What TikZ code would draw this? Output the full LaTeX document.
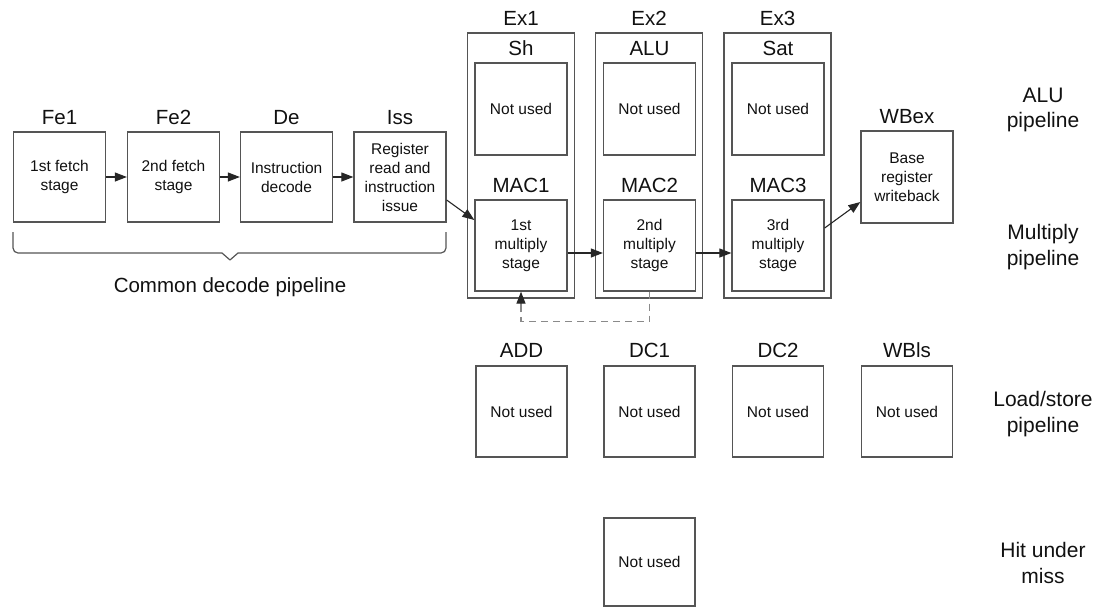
\documentclass[tikz,border=0pt]{standalone}
\usepackage{fontspec}
\setmainfont{Liberation Sans}
\usetikzlibrary{arrows.meta}
\definecolor{boxgray}{HTML}{555555}
\definecolor{txt}{HTML}{111111}
\definecolor{dashgray}{HTML}{8A8A8A}
\begin{document}
\begin{tikzpicture}[x=1pt,y=-1pt,
  box/.style={draw=boxgray, line width=1.3pt, minimum width=92pt, minimum height=90pt,
    inner sep=0pt, font=\fontsize{15.5}{19}\selectfont, align=center, text=txt},
  lsbox/.style={box, minimum width=91pt, minimum height=91pt},
  exbox/.style={draw=boxgray, line width=1.3pt, minimum width=107pt, minimum height=265pt, inner sep=0pt},
  head/.style={font=\fontsize{20.5}{25}\selectfont, text=txt, anchor=base, inner sep=0pt},
  side/.style={font=\fontsize{21}{25.5}\selectfont, text=txt, align=center, inner sep=0pt},
  flow/.style={draw=black!85, line width=1.1pt, -{Triangle[length=12pt,width=9pt]}},
  dashline/.style={draw=dashgray, line width=1.3pt, dash pattern=on 7pt off 5pt},
  bracel/.style={draw=boxgray, line width=1.2pt, line join=round}
]
\useasboundingbox (0,0) rectangle (1097,608);
\fill[white] (0,0) rectangle (1097,608);

% common decode pipeline
\node[box] (Fe1) at (59.5,177) {1st fetch\\stage};
\node[box] (Fe2) at (173.5,177) {2nd fetch\\stage};
\node[box] (De)  at (286.5,177) {Instruction\\decode};
\node[box] (Iss) at (400,177) {Register\\read and\\instruction\\issue};
\node[head] (lFe1) at (59.5,124) {Fe1};
\node[head] (lFe2) at (173.5,124) {Fe2};
\node[head] (lDe)  at (286.5,124) {De};
\node[head] (lIss) at (400,124) {Iss};

\draw[bracel] (13,232) -- (13,248) to[out=-90,in=180] (18,253) -- (222,253) -- (230,260) -- (238,253) -- (441,253) to[out=0,in=-90] (446,248) -- (446,232);
\node[head] (common) at (230,292) {Common decode pipeline};

% execute columns
\node[exbox] (Ex1) at (521,165.5) {};
\node[exbox] (Ex2) at (649,165.5) {};
\node[exbox] (Ex3) at (777.5,165.5) {};
\node[head] (lEx1) at (521,25) {Ex1};
\node[head] (lEx2) at (649,25) {Ex2};
\node[head] (lEx3) at (777.5,25) {Ex3};
\node[head] (lSh)  at (521,55) {Sh};
\node[head] (lALU) at (649.5,55) {ALU};
\node[head] (lSat) at (778,55) {Sat};
\node[box, minimum height=92pt] (Sh)  at (521,109) {Not used};
\node[box, minimum height=92pt] (ALU) at (649.5,109) {Not used};
\node[box, minimum height=92pt] (Sat) at (778,109) {Not used};
\node[head] (lMAC1) at (521,192) {MAC1};
\node[head] (lMAC2) at (649.5,192) {MAC2};
\node[head] (lMAC3) at (778,192) {MAC3};
\node[box, minimum height=91pt] (MAC1) at (521,245.5) {1st\\multiply\\stage};
\node[box, minimum height=91pt] (MAC2) at (649.5,245.5) {2nd\\multiply\\stage};
\node[box, minimum height=91pt] (MAC3) at (778,245.5) {3rd\\multiply\\stage};

% writeback
\node[box, minimum height=92pt] (WBex) at (907,177) {Base\\register\\writeback};
\node[head] (lWBex) at (907,123) {WBex};

% load/store
\node[head] (lADD)  at (521.5,357) {ADD};
\node[head] (lDC1)  at (649.5,357) {DC1};
\node[head] (lDC2)  at (778,357) {DC2};
\node[head] (lWBls) at (907,357) {WBls};
\node[lsbox] (ADD)  at (521.5,411.5) {Not used};
\node[lsbox] (DC1)  at (649.5,411.5) {Not used};
\node[lsbox] (DC2)  at (778,411.5) {Not used};
\node[lsbox] (WBls) at (907,411.5) {Not used};
\node[lsbox, minimum height=88pt] (HUM) at (649.5,562) {Not used};

% side labels
\node[side] (sALU) at (1043,110) {ALU\\pipeline};
\node[side] (sMul) at (1043,247) {Multiply\\pipeline};
\node[side] (sLS)  at (1043,414) {Load/store\\pipeline};
\node[side] (sHUM) at (1043,563) {Hit under\\miss};

% connectors
\draw[flow] (Fe1) -- (Fe2);
\draw[flow] (Fe2) -- (De);
\draw[flow] (De) -- (Iss);
\draw[flow] ([yshift=-23pt]Iss.east) -- ([yshift=25.5pt]MAC1.west);
\draw[flow] ([yshift=-7.5pt]MAC1.east) -- ([yshift=-7.5pt]MAC2.west);
\draw[flow] ([yshift=-7.5pt]MAC2.east) -- ([yshift=-7.5pt]MAC3.west);
\draw[flow] ([yshift=17.5pt]MAC3.east) -- ([yshift=-25pt]WBex.west);
\coordinate (dashend) at ([yshift=-14pt]MAC1.south);
\draw[dashline] (MAC2.south) -- ++(0,30) -| (dashend);
\draw[flow, draw=dashgray, line width=1.3pt, -{Triangle[length=12pt,width=9pt,color=black!85]}] (dashend) -- (MAC1.south);
\end{tikzpicture}
\end{document}
